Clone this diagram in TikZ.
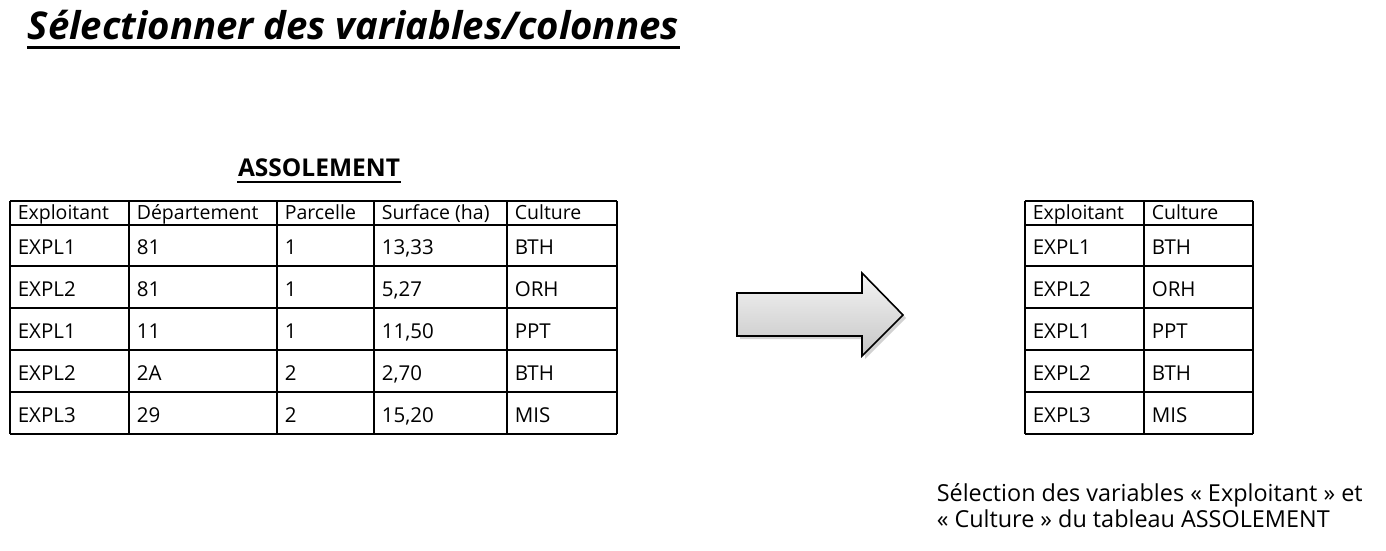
\documentclass[tikz,border=0pt]{standalone}
\usepackage{fontspec}
\setmainfont{Open Sans}
\usetikzlibrary{positioning, calc, shadows}

\begin{document}
\begin{tikzpicture}[x=1pt, y=-1pt, line width=1.6pt,
    cell/.style = {anchor=base west, inner sep=0pt, font=\fontsize{20.5}{22}\selectfont},
    hcell/.style = {anchor=base west, inner sep=0pt, font=\fontsize{19.5}{21}\selectfont},
    caption/.style = {anchor=base west, inner sep=0pt, font=\fontsize{23.4}{26}\selectfont}]
    \useasboundingbox (0,0) rectangle (1386,551);

    % Title
    \node[anchor=base west, inner sep=0pt, font=\fontsize{38.3}{40}\bfseries\itshape\selectfont] (title) at (27,40) {Sélectionner des variables/colonnes};
    \draw[line width=3pt] ($(title.base west)+(0,8)$) -- ($(title.base east)+(0,8)$);

    \node[anchor=base, inner sep=0pt, font=\fontsize{24.5}{26}\bfseries\selectfont] (asso) at (319,176) {ASSOLEMENT};
    \draw[line width=2pt] ($(asso.base west)+(0,6)$) -- ($(asso.base east)+(0,6)$);

    % Left table
    \foreach \x [count=\c] in {10,129,277,374,507,617}
        \draw (\x,201) -- (\x,434);
    \foreach \y in {201,225,266,308,350,392,434}
        \draw (10,\y) -- (617,\y);
    \foreach \t/\x [count=\c] in {Exploitant/17,Département/136,Parcelle/284,Surface (ha)/381,Culture/514}
        \node[hcell] (h\c) at (\x,219) {\t};
    \foreach \a/\b/\p/\s/\k [count=\r] in {EXPL1/81/1/{13,33}/BTH, EXPL2/81/1/{5,27}/ORH, EXPL1/11/1/{11,50}/PPT, EXPL2/2A/2/{2,70}/BTH, EXPL3/29/2/{15,20}/MIS}
    {
        \node[cell] (a\r) at (17,{254+42*(\r-1)}) {\a};
        \node[cell] (b\r) at (136,{254+42*(\r-1)}) {\b};
        \node[cell] (p\r) at (284,{254+42*(\r-1)}) {\p};
        \node[cell] (s\r) at (381,{254+42*(\r-1)}) {\s};
        \node[cell] (k\r) at (514,{254+42*(\r-1)}) {\k};
    }

    % Arrow
    \fill[black!35, opacity=0.5] (740,296) -- (865,296) -- (865,276) -- (906,318) -- (865,359) -- (865,339) -- (740,339) -- cycle;
    \shade[top color=gray!8, bottom color=gray!45, draw=black, line width=1.6pt, line join=miter]
        (737,293) -- (862,293) -- (862,273) -- (903,315) -- (862,356) -- (862,336) -- (737,336) -- cycle;

    % Right table
    \foreach \x in {1025,1144,1253}
        \draw (\x,201) -- (\x,434);
    \foreach \y in {201,225,266,308,350,392,434}
        \draw (1025,\y) -- (1253,\y);
    \node[hcell] (rh1) at (1032,219) {Exploitant};
    \node[hcell] (rh2) at (1151,219) {Culture};
    \foreach \a/\k [count=\r] in {EXPL1/BTH, EXPL2/ORH, EXPL1/PPT, EXPL2/BTH, EXPL3/MIS}
    {
        \node[cell] (ra\r) at (1032,{254+42*(\r-1)}) {\a};
        \node[cell] (rk\r) at (1151,{254+42*(\r-1)}) {\k};
    }

    % Caption
    \node[caption] (cap1) at (936,501) {Sélection des variables « Exploitant » et};
    \node[caption] (cap2) at (936,527) {« Culture » du tableau ASSOLEMENT};
\end{tikzpicture}
\end{document}
